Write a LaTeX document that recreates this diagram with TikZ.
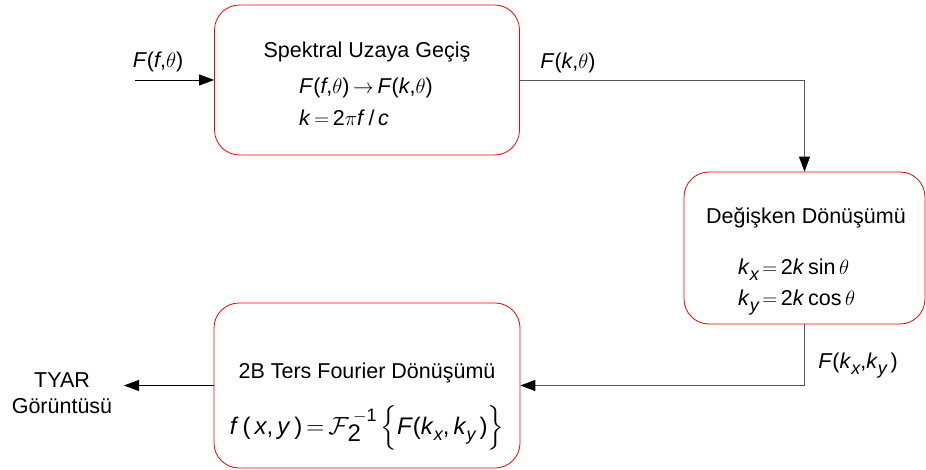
\documentclass[tikz,border=0pt]{standalone}
\usepackage{amsmath}
\usepackage{fontspec}
\setmainfont{Liberation Sans}
\usetikzlibrary{arrows.meta}
\newcommand\vi[1]{\textit{#1}}
\newcommand\lowsub[1]{\raisebox{-0.28em}{\fontsize{18}{18}\selectfont\itshape #1}}
\begin{document}
\begin{tikzpicture}[x=1pt,y=-1pt,
  blk/.style={draw=red,line width=0.8pt,rounded corners=25pt,inner sep=0pt},
  txt/.style={font=\fontsize{21.5}{25}\selectfont,inner sep=0pt},
  conn/.style={draw=black!65,line width=0.9pt,-{Triangle[length=15pt,width=11pt,fill=black,color=black]}}]
\useasboundingbox (0,0) rectangle (926,470);
% boxes
\node[blk,minimum width=305pt,minimum height=150pt] (b1) at (367,80) {};
\node[blk,minimum width=241pt,minimum height=152pt] (b2) at (804.5,248) {};
\node[blk,minimum width=306pt,minimum height=165pt] (b3) at (367,385.5) {};
% box 1 text
\node[txt] (t1) at (367,52) {Spektral Uzaya Geçiş};
\node[txt,anchor=west] (t1a) at (299,88) {\vi{F}(\vi{f},$\theta$)\,$\rightarrow$\,\vi{F}(\vi{k},$\theta$)};
\node[txt,anchor=west] (t1b) at (299,118) {\vi{k}\,$=$\,2$\pi$\vi{f}\,/\,\vi{c}};
% box 2 text
\node[txt] (t2) at (806,218) {Değişken Dönüşümü};
\node[txt,anchor=west] (t2a) at (738,270) {\vi{k}\lowsub{x}\,$=$\,2\vi{k}\,sin\,$\theta$};
\node[txt,anchor=west] (t2b) at (738,303) {\vi{k}\lowsub{y}\,$=$\,2\vi{k}\,cos\,$\theta$};
% box 3 text
\node[txt] (t3) at (367,373) {2B Ters Fourier Dönüşümü};
\node[txt] (t3a) at (367,428) {\fontsize{24}{28}\selectfont\vi{f}\,(\,\vi{x},\,\vi{y}\,)\,$=$\,$\mathcal{F}$\kern-1pt\raisebox{-0.3em}{2}\kern-8pt\raisebox{0.55em}{\fontsize{18}{18}\selectfont $-$1}\,$\Big\{$\vi{F}(\vi{k}\lowsub{x},\,\vi{k}\lowsub{y}\,)$\Big\}$};
% outside labels
\node[txt] (lin) at (158,62) {\vi{F}(\vi{f},$\theta$)};
\node[txt] (lk) at (568,63) {\vi{F}(\vi{k},$\theta$)};
\node[txt] (lkk) at (858,366) {\vi{F}(\vi{k}\lowsub{x},\vi{k}\lowsub{y}\,)};
\node[txt,align=center] (out) at (62,393) {TYAR\\[1pt]Görüntüsü};
% connectors
\coordinate (cin) at (135,80);
\coordinate (cout) at (124,385.5);
\coordinate (c1) at (804.5,80);
\coordinate (c2) at (804.5,385.5);
\draw[conn,draw=black] (cin) -- (b1.west);
\draw[conn] (b1.east) -- (c1) -- (b2.north);
\draw[conn] (b2.south) -- (c2) -- (b3.east);
\draw[conn,draw=black] (b3.west) -- (cout);
\end{tikzpicture}
\end{document}
